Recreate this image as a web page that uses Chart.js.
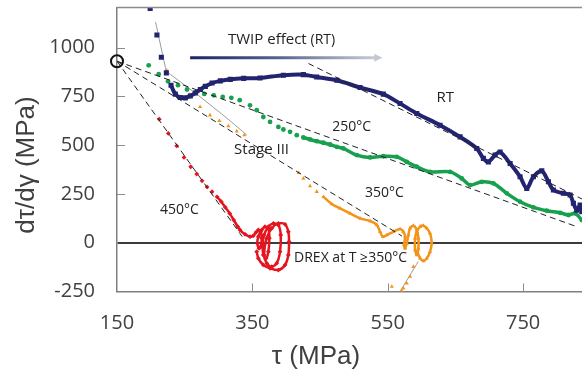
<!DOCTYPE html>
<html>
<head>
<meta charset="utf-8">
<script src="https://cdn.jsdelivr.net/npm/chart.js@4.4.1/dist/chart.umd.min.js"></script>
<style>
  html, body { margin: 0; padding: 0; background: #fff; overflow: hidden; }
</style>
</head>
<body>
<canvas id="chart" width="582" height="375"></canvas>
<script>
// axis ticks
const xTicks = [150, 350, 550, 750];
const yTicks = [-250, 0, 250, 500, 750, 1000];

// RT (room temperature)
const rtTau = [199, 209, 215.5, 222.9, 229.8, 236.2, 243.5, 250.9, 258.3, 265.7, 273.1, 280.5, 290.4, 302.7, 317.4, 337.2, 361.3, 395.8, 425.3, 445.1, 474.7, 509.1, 543.5, 568.2, 592.9, 627.3, 656.9, 681.5, 691.3, 698.7, 708.6, 716, 730.8, 745.5, 755.4, 765.2, 777.6, 787.4, 794.7, 809.5, 819.4, 824.3, 829.3, 834.2, 836.7];
const rtRate = [1200, 1064, 950, 870, 807, 761, 744, 742, 752, 767, 785, 801, 818, 829, 837, 842, 844, 858, 861, 849, 832, 795, 761, 713, 662, 602, 542, 483, 432, 414, 449, 465, 406, 338, 278, 338, 368, 312, 270, 253, 244, 202, 167, 193, 159];

// 250°C
const t250Tau = [196.8, 211.6, 225.4, 240.1, 253.4, 266.7, 279, 292.9, 306.2, 318.9, 331.3, 346.5, 356.4, 366.2, 376.1, 388.4, 395.8, 405.7, 415.6, 425.3, 435.2, 445.1, 454.9, 464.8, 474.7, 484.4, 504.2, 523.9, 543.5, 563.3, 578.1, 592.9, 612.5, 642.1, 659.4, 671.7, 688.9, 706.1, 725.9, 745.5, 765.2, 785, 804.7, 816.9, 826.8, 836.7];
const t250Rate = [909, 863, 827, 807, 785, 771, 762, 755, 747, 742, 730, 704, 679, 644, 619, 593, 580, 568, 551, 539, 529, 520, 512, 503, 491, 483, 449, 437, 443, 440, 414, 389, 363, 363, 329, 295, 312, 304, 253, 210, 181, 164, 153, 142, 150, 116];

// 350°C
const t350Tau = [223.4, 240.6, 256.8, 272.7, 287.4, 301.2, 314.5, 326.9, 338.1, 418.5, 425.3, 435.2, 445.1, 454.9, 467.3, 479.5, 494.3, 509.1, 523.9, 533.8, 538.7, 542.6, 548.6, 558.3, 568.2, 573.1, 575.6, 574.1, 575.6, 578.1, 580.5, 583, 587.9, 592.9, 595.3, 595.3, 592.9, 590.4, 590.4, 592.9, 597.8, 602.6, 607.7, 612.5, 615, 612.5, 607.7, 602.6, 597.8, 592.9, 587.9, 583, 578.1, 573.1, 570.7, 556];
const t350Rate = [883, 807, 759, 696, 653, 624, 597, 571, 551, 358, 329, 290, 261, 235, 198, 176, 150, 125, 111, 91, 56, 31, 39, 56, 70, 56, 31, -12, -29, -3, 39, 74, 87, 65, 23, -29, -63, -37, 23, 56, 82, 87, 74, 48, -3, -46, -80, -94, -80, -46, -123, -174, -208, -233, -247, -225];

// 450°C
const t450Tau = [212.5, 225.8, 238.2, 249, 258.9, 267.8, 275.6, 283, 290.4, 297.8, 304.1, 310, 316.5, 322.5, 328.4, 331.8, 339.2, 346.5, 351.4, 355.4, 358.8, 362.4, 363.8, 362.4, 359.8, 357.3, 358.8, 363.8, 368.7, 373.6, 375.1, 373.6, 370.2, 366.2, 365.3, 367.2, 373.6, 381, 388.4, 391.9, 390.9, 386, 378.6, 371.2, 367.2, 371.2, 378.6, 388.4, 398.3, 403.1, 404.2, 403.1, 398.3, 388.4, 376.1, 366.2, 358.8, 356.4];
const t450Rate = [633, 560, 496, 437, 389, 352, 317, 286, 261, 235, 210, 181, 150, 116, 82, 65, 43, 31, 36, 53, 65, 56, 23, -20, -29, -3, 31, 65, 82, 74, 23, -46, -80, -63, -12, 39, 82, 99, 91, 39, -46, -105, -123, -105, -63, 23, 74, 99, 94, 56, 5, -63, -114, -140, -131, -114, -80, -46];

// fitted lines
const fit450Tau = [150, 335], fit450Rate = [930, 31];
const fit350Tau = [150, 571], fit350Rate = [930, 34];
const fit250Tau = [150, 831], fit250Rate = [930, 80];
const fitRtTau = [433, 837], fitRtRate = [918, 224];
const guideRtTau = [207, 223], guideRtRate = [1130, 874];
const guide350Tau = [224, 273, 313, 342], guide350Rate = [875, 747, 636, 551];
const guideTailTau = [568, 595], guideTailRate = [-251, -97];
const originTau = [150], originRate = [930];

const toPoints = (xs, ys) => xs.map((x, i) => ({ x, y: ys[i] }));

// curve drawn as line only between index "from" and "to", dots elsewhere
function series(label, xs, ys, color, style, radius, width, from, to = xs.length - 1) {
    return {
        label,
        data: toPoints(xs, ys),
        showLine: true,
        borderColor: color,
        backgroundColor: color,
        borderWidth: width,
        pointStyle: style,
        pointRadius: radius,
        pointBorderWidth: 0,
        tension: 0.3,
        segment: {
            borderColor: ctx => (ctx.p0DataIndex >= from && ctx.p1DataIndex <= to) ? color : 'rgba(0,0,0,0)'
        }
    };
}

function fitLine(xs, ys, dashed) {
    return {
        data: toPoints(xs, ys),
        showLine: true,
        borderColor: dashed ? '#222' : '#9a9a9a',
        borderWidth: 1,
        borderDash: dashed ? [6, 4] : [],
        pointRadius: 0,
        tension: 0.2
    };
}

const axisFont = { family: 'Open Sans', size: 20 };

const labels = [
    { text: 'RT', x: 635, y: 745, size: 15, align: 'center' },
    { text: '250°C', x: 468, y: 592, size: 14, align: 'left' },
    { text: 'Stage III', x: 323, y: 474, size: 15, align: 'left' },
    { text: '350°C', x: 516.5, y: 254, size: 14, align: 'left' },
    { text: '450°C', x: 213.5, y: 167, size: 14, align: 'left' },
    { text: 'DREX at T ≥350°C', x: 411.6, y: -78, size: 14, align: 'left' }
];

const decorPlugin = {
    id: 'decor',
    afterDraw(chart) {
        const { ctx, chartArea: a, scales: { x, y } } = chart;
        ctx.save();

        // top frame and inner ticks
        ctx.strokeStyle = '#8c8c8c';
        ctx.lineWidth = 1.5;
        ctx.beginPath();
        ctx.moveTo(a.left, a.top);
        ctx.lineTo(a.right, a.top);
        ctx.stroke();
        ctx.lineWidth = 1;
        ctx.beginPath();
        yTicks.filter(v => v > 0).forEach(v => {
            const py = Math.round(y.getPixelForValue(v)) + 0.5;
            ctx.moveTo(a.left, py);
            ctx.lineTo(a.left + 8, py);
        });
        xTicks.filter(v => v > 150).forEach(v => {
            const px = Math.round(x.getPixelForValue(v)) + 0.5;
            ctx.moveTo(px, a.bottom);
            ctx.lineTo(px, a.bottom - 8);
        });
        ctx.stroke();

        // TWIP arrow
        const ax0 = x.getPixelForValue(258), ax1 = x.getPixelForValue(542), ay = y.getPixelForValue(948);
        const grad = ctx.createLinearGradient(ax0, 0, ax1, 0);
        grad.addColorStop(0, '#1b2468');
        grad.addColorStop(0.45, '#56608f');
        grad.addColorStop(1, '#cfd3dc');
        ctx.strokeStyle = grad;
        ctx.lineWidth = 3;
        ctx.beginPath();
        ctx.moveTo(ax0, ay);
        ctx.lineTo(ax1 - 6, ay);
        ctx.stroke();
        ctx.fillStyle = '#c4c8d1';
        ctx.beginPath();
        ctx.moveTo(ax1, ay);
        ctx.lineTo(ax1 - 8, ay - 4);
        ctx.lineTo(ax1 - 8, ay + 4);
        ctx.closePath();
        ctx.fill();

        // text labels
        ctx.fillStyle = '#222';
        ctx.textBaseline = 'middle';
        const tx = x.getPixelForValue(314), ty = y.getPixelForValue(1042);
        ctx.textAlign = 'left';
        ctx.font = '15px "Open Sans"';
        ctx.fillText('TWIP effect', tx, ty);
        const w = ctx.measureText('TWIP effect ').width;
        ctx.font = '14px "Open Sans"';
        ctx.fillText('(RT)', tx + w, ty + 1);
        labels.forEach(l => {
            ctx.font = l.size + 'px "Open Sans"';
            ctx.textAlign = l.align;
            ctx.fillText(l.text, x.getPixelForValue(l.x), y.getPixelForValue(l.y));
        });

        // axis titles
        ctx.fillStyle = '#404040';
        ctx.font = '26px "Liberation Sans"';
        ctx.textAlign = 'center';
        ctx.fillText('τ (MPa)', 316, 357);
        ctx.translate(27, 165);
        ctx.rotate(-Math.PI / 2);
        ctx.fillText('dτ/dγ (MPa)', 0, 0);
        ctx.restore();
    }
};

new Chart(document.getElementById('chart'), {
    type: 'scatter',
    data: {
        datasets: [
            {
                data: toPoints(originTau, originRate),
                pointRadius: 6,
                pointStyle: 'circle',
                borderColor: '#111',
                backgroundColor: 'rgba(0,0,0,0)',
                pointBorderWidth: 2,
                clip: false
            },
            fitLine(fit450Tau, fit450Rate, true),
            fitLine(fit350Tau, fit350Rate, true),
            fitLine(fit250Tau, fit250Rate, true),
            fitLine(fitRtTau, fitRtRate, true),
            series('RT', rtTau, rtRate, '#23246f', 'rect', 3.6, 4, 4),
            series('250°C', t250Tau, t250Rate, '#17a04e', 'circle', 2.4, 3.5, 19),
            series('350°C', t350Tau, t350Rate, '#f39419', 'triangle', 2.4, 2.5, 13, 49),
            series('450°C', t450Tau, t450Rate, '#e3161f', 'rectRot', 2.4, 2.5, 9),
            fitLine(guideRtTau, guideRtRate, false),
            fitLine(guide350Tau, guide350Rate, false),
            fitLine(guideTailTau, guideTailRate, false)
        ]
    },
    options: {
        responsive: false,
        devicePixelRatio: 1,
        animation: false,
        layout: { autoPadding: false, padding: { top: 7.5, right: 0, left: 0, bottom: 0 } },
        plugins: { legend: { display: false }, tooltip: { enabled: false } },
        scales: {
            x: {
                type: 'linear',
                min: 150,
                max: 837,
                afterBuildTicks: s => { s.ticks = xTicks.map(value => ({ value })); },
                afterFit: s => { s.height = 83.5; s.paddingLeft = 0; s.paddingRight = 0; },
                grid: { display: false, drawTicks: false },
                border: { display: true, color: '#7f7f7f', width: 1.5 },
                ticks: { font: axisFont, color: '#404040', padding: 20, maxRotation: 0, callback: v => String(v) }
            },
            y: {
                type: 'linear',
                min: -250,
                max: 1205,
                afterBuildTicks: s => { s.ticks = yTicks.map(value => ({ value })); },
                afterFit: s => { s.width = 117; s.paddingTop = 0; s.paddingBottom = 0; },
                grid: {
                    drawTicks: false,
                    color: c => c.tick && c.tick.value === 0 ? '#3c3c3c' : 'rgba(0,0,0,0)',
                    lineWidth: c => c.tick && c.tick.value === 0 ? 2 : 0
                },
                border: { display: true, color: '#7f7f7f', width: 1.5 },
                ticks: { font: axisFont, color: '#404040', padding: 22, callback: v => String(v) }
            }
        }
    },
    plugins: [decorPlugin]
});
</script>
</body>
</html>
